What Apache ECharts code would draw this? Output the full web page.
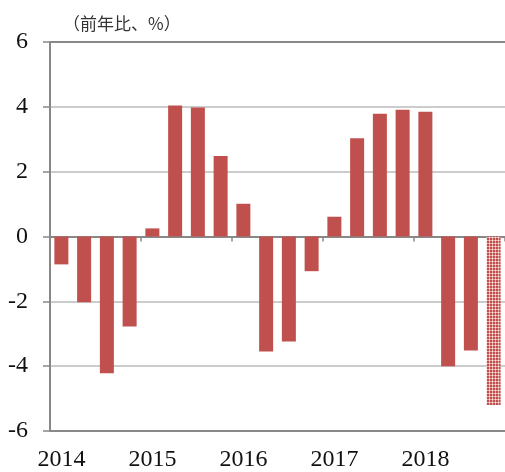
<!DOCTYPE html>
<html><head><meta charset="utf-8">
<script src="https://cdn.jsdelivr.net/npm/echarts@6/dist/echarts.min.js"></script>
<style>html,body{margin:0;padding:0;background:#fff}#c{width:505px;height:472px}</style>
</head><body><div id="c"></div>
<script>
var years = ['2014','2015','2016','2017','2018'];
var categories = ['2014Q1','2014Q2','2014Q3','2014Q4','2015Q1','2015Q2','2015Q3','2015Q4','2016Q1','2016Q2','2016Q3','2016Q4','2017Q1','2017Q2','2017Q3','2017Q4','2018Q1','2018Q2','2018Q3','2018Q4'];
var values = [-0.86,-2.03,-4.22,-2.78,0.25,4.04,3.98,2.48,1.01,-3.55,-3.24,-1.07,0.61,3.03,3.79,3.91,3.85,-4.0,-3.52,-5.2];
var forecastIndex = [19];
var yTicks = [-6,-4,-2,0,2,4,6];
var title = '（前年比、%）';

var red = '#C0504D';
var cv = document.createElement('canvas');
cv.width = 3; cv.height = 3;
var cx = cv.getContext('2d');
cx.fillStyle = red; cx.fillRect(0,0,3,3);
cx.fillStyle = '#E9A6A4';
cx.fillRect(0,0,3,1); cx.fillRect(0,0,1,3);
cx.fillStyle = '#FBECEC';
cx.fillRect(0,0,1,1);

var data = values.map(function(v,i){
  if (forecastIndex.indexOf(i) >= 0) return {value:v, itemStyle:{color:{image:cv, repeat:'repeat'}}};
  return v;
});

var chart = echarts.init(document.getElementById('c'));
var serif = 'Liberation Serif';
chart.setOption({
  animation:false,
  grid:{left:50,right:0,top:42,bottom:38,containLabel:false},
  graphic:[{type:'text',left:63,top:15,style:{text:title,font:'17px "Noto Sans CJK JP"',fill:'#333'}}],
  xAxis:[{
    type:'category', data:categories,
    axisLine:{onZero:true,lineStyle:{color:'#888',width:2}},
    axisTick:{show:true,length:5,inside:false,alignWithLabel:false,interval:function(i){return i%4===0;},lineStyle:{color:'#888',width:1.5}},
    axisLabel:{show:false}
  },{
    type:'category', data:categories, position:'bottom',
    axisLine:{show:false,onZero:false}, axisTick:{show:false},
    axisLabel:{interval:0,margin:17,fontFamily:serif,fontSize:24,color:'#111',
      formatter:function(v,i){return i%4===0 ? years[i/4] : '';}}
  }],
  yAxis:{
    type:'value', min:yTicks[0], max:yTicks[yTicks.length-1], interval:2,
    axisLine:{show:true,lineStyle:{color:'#888',width:2}},
    axisTick:{show:true,length:7,lineStyle:{color:'#888',width:1.5}},
    axisLabel:{margin:22,fontFamily:serif,fontSize:24,color:'#111'},
    splitLine:{show:true,lineStyle:{color:['#888','#ccc','#ccc','#888','#ccc','#ccc','#888'],width:2}}
  },
  series:[{type:'bar',xAxisIndex:0,data:data,barWidth:14,itemStyle:{color:red}}]
});
</script></body></html>
